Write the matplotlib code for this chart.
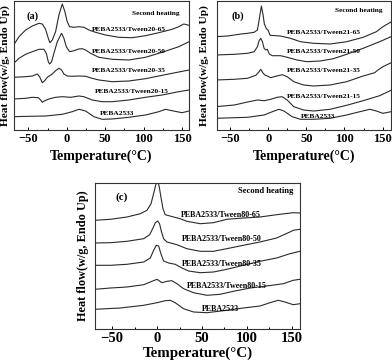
import matplotlib
matplotlib.use("Agg")
import matplotlib.pyplot as plt
from matplotlib.ticker import MultipleLocator

plt.rcParams['font.family'] = ['Liberation Serif', 'DejaVu Serif']
plt.rcParams['font.weight'] = 'bold'

# ---------------- Panel (a): PEBA2533 / Tween20 ----------------
a65_T = [-69, -62.1, -53.5, -44.8, -36.1, -31.8, -27.5, -24.0, -21.9, -18.8, -14.5, -10.2, -5.8, -2.4,
         0.6, 3.7, 9.3, 15.8, 22.3, 28.8, 37.4, 50.4, 67.7, 85.1, 102.4, 119.7, 137.0, 145.7, 152.2, 159]
a65_v = [8.5, 9.33, 10.0, 10.4, 10.67, 10.6, 10.07, 9.17, 8.73, 9.0, 9.83, 11.5, 12.6, 11.83,
         10.83, 10.33, 10.27, 10.33, 10.27, 10.0, 9.77, 9.5, 9.27, 9.23, 9.43, 9.73, 10.07, 10.33, 10.6, 10.47]

a50_T = [-69, -62.1, -53.5, -44.8, -36.1, -29.7, -26.6, -24.0, -22.3, -19.7, -16.7, -12.3, -6.7, -3.7,
         -0.6, 3.7, 9.3, 15.8, 20.1, 24.5, 31.0, 41.8, 59.1, 80.7, 102.4, 124.0, 145.7, 159]
a50_v = [6.67, 7.17, 7.57, 7.83, 8.07, 8.07, 7.67, 6.83, 6.6, 6.83, 7.67, 8.83, 9.67, 9.17,
         8.33, 7.83, 7.93, 8.1, 8.13, 8.0, 7.67, 7.27, 7.07, 7.0, 7.27, 7.77, 8.33, 8.83]

a35_T = [-69, -53.5, -44.8, -38.3, -35.3, -31.8, -28.8, -25.3, -18.8, -14.5, -10.2, -6.7, -3.7, 0.6,
         7.1, 15.8, 24.5, 33.1, 41.8, 59.1, 80.7, 102.4, 124.0, 145.7, 159]
a35_v = [5.27, 5.33, 5.4, 5.6, 5.33, 4.73, 4.93, 5.27, 5.6, 5.93, 6.17, 6.0, 5.6, 5.4,
         5.37, 5.4, 5.37, 5.17, 5.0, 4.83, 4.9, 5.13, 5.47, 5.8, 6.0]

a15_T = [-69, -53.5, -44.8, -37.0, -34.0, -31.8, -28.4, -23.2, -14.5, -5.8, 5.0, 15.8, 22.3, 33.1,
         46.1, 59.1, 80.7, 102.4, 124.0, 145.7, 159]
a15_v = [3.1, 3.17, 3.27, 3.23, 3.0, 2.77, 2.93, 3.1, 3.27, 3.33, 3.27, 3.4, 3.33, 3.0,
         2.83, 2.83, 3.0, 3.27, 3.5, 3.83, 4.0]

a0_T = [-69, -49.1, -27.5, -5.8, 7.1, 16.0, 24.5, 35.3, 46.1, 59.1, 80.7, 102.4, 119.7, 128.4, 137.0, 150.0, 159]
a0_v = [1.33, 1.37, 1.4, 1.57, 1.83, 2.07, 1.9, 1.33, 1.07, 1.1, 1.27, 1.5, 1.83, 2.07, 1.93, 1.73, 1.9]

# ---------------- Panel (b): PEBA2533 / Tween21 ----------------
b65_T = [-69, -53.0, -35.7, -27.1, -18.4, -14.1, -11.9, -8.9, -6.7, -5.0, -2.4, -0.2, 2.4, 16.2,
         29.2, 42.2, 59.5, 81.2, 102.8, 124.5, 141.8, 150.4, 161]
b65_v = [9.33, 9.4, 9.6, 9.67, 9.77, 10.0, 11.0, 12.4, 11.5, 10.6, 10.13, 10.0, 9.47, 9.4,
         9.17, 8.83, 8.67, 8.6, 8.83, 9.27, 9.83, 10.33, 10.8]

b50_T = [-69, -44.4, -27.1, -18.4, -14.1, -11.9, -9.7, -7.6, -5.4, -3.2, -1.1, 1.5, 5.4, 16.2,
         24.9, 37.9, 50.9, 68.2, 85.5, 102.8, 124.5, 146.1, 161]
b50_v = [7.5, 7.57, 7.67, 7.83, 8.33, 8.93, 9.17, 8.83, 8.17, 8.0, 8.07, 7.6, 7.43, 7.43,
         7.27, 7.0, 6.83, 6.9, 7.13, 7.57, 8.17, 8.83, 9.33]

b35_T = [-69, -44.4, -27.1, -16.2, -11.9, -9.7, -7.1, -4.5, -1.1, 3.2, 9.7, 18.4, 24.9, 33.5,
         46.5, 59.5, 81.2, 102.8, 124.5, 139.6, 143.9, 150.4, 161]
b35_v = [5.0, 5.07, 5.17, 5.47, 5.83, 6.07, 5.73, 5.5, 5.4, 5.23, 5.37, 5.53, 5.33, 4.83,
         4.5, 4.4, 4.5, 4.83, 5.4, 5.73, 6.0, 6.33, 6.72]

b15_T = [-69, -44.4, -27.1, -14.1, -5.4, 3.2, 11.9, 18.4, 24.9, 33.5, 46.5, 59.5, 81.2, 102.8,
         124.5, 146.1, 161]
b15_v = [2.33, 2.5, 2.8, 3.0, 2.93, 3.07, 3.27, 3.33, 3.0, 2.33, 2.0, 1.9, 2.07, 2.47,
         2.93, 3.43, 3.97]

b0_T = [-69, -27.1, -5.4, 5.4, 14.1, 20.6, 31.4, 42.2, 59.5, 81.2, 102.8, 120.1, 133.1, 141.8, 150.4, 161]
b0_v = [1.17, 1.27, 1.5, 1.83, 2.07, 1.9, 1.33, 1.07, 1.07, 1.17, 1.5, 1.83, 2.07, 1.9, 1.67, 1.83]

# ---------------- Panel (c): PEBA2533 / Tween80 ----------------
c65_T = [-69.2, -51.8, -33.4, -18.6, -11.2, -6.7, -3.8, -1.6, 0.6, 2.5, 4.3, 6.6, 9.1, 18.4,
         25.8, 33.2, 48.0, 62.8, 77.5, 96.0, 114.5, 133.0, 151.5, 159]
c65_v = [10.87, 10.97, 11.2, 11.53, 11.87, 12.53, 13.53, 14.37, 14.87, 14.2, 13.2, 12.03, 11.43, 11.2,
         11.03, 10.77, 10.53, 10.63, 10.97, 11.1, 11.2, 11.43, 11.63, 11.6]

c50_T = [-69.2, -51.8, -33.4, -14.9, -8.2, -4.5, -1.9, 0.6, 2.8, 5.0, 7.3, 11.0, 22.1, 33.2,
         48.0, 62.8, 77.5, 96.0, 114.5, 133.0, 147.8, 151.5, 159]
c50_v = [8.6, 8.63, 8.77, 9.03, 9.43, 10.1, 10.63, 10.8, 10.53, 9.7, 9.03, 8.7, 8.43, 8.03,
         7.77, 7.77, 8.03, 8.37, 8.7, 9.1, 9.7, 9.87, 9.97]

c35_T = [-69.2, -51.8, -33.4, -14.9, -7.5, -3.8, -0.8, 1.8, 4.3, 7.3, 12.9, 20.3, 27.7, 35.0,
         48.0, 62.8, 77.5, 96.0, 114.5, 133.0, 147.8, 159]
c35_v = [6.37, 6.37, 6.47, 6.7, 7.1, 7.87, 8.37, 8.3, 7.53, 6.8, 6.6, 6.47, 6.1, 5.8,
         5.63, 5.7, 5.97, 6.37, 6.77, 7.1, 7.53, 7.77]

c15_T = [-69.2, -51.8, -33.4, -14.9, -5.6, 0.0, 5.5, 11.0, 16.5, 22.1, 29.5, 40.6, 55.4, 70.1,
         84.9, 103.4, 121.9, 140.4, 151.5, 159]
c15_v = [3.97, 4.1, 4.2, 4.43, 4.77, 4.97, 4.63, 4.77, 4.83, 4.53, 4.03, 3.63, 3.37, 3.47,
         3.77, 4.1, 4.3, 4.53, 4.87, 4.97]

c0_T = [-69.2, -40.8, -14.9, 0.0, 9.1, 14.7, 20.2, 29.5, 40.6, 55.4, 77.5, 96.0, 114.5, 125.6,
        134.8, 142.2, 151.5, 159]
c0_v = [1.97, 2.1, 2.37, 2.63, 2.83, 2.87, 2.63, 2.03, 1.7, 1.63, 1.87, 2.1, 2.3, 2.63,
        2.87, 2.7, 2.43, 2.53]

labels_a = ["PEBA2533/Tween20-65", "PEBA2533/Tween20-50", "PEBA2533/Tween20-35", "PEBA2533/Tween20-15", "PEBA2533"]
labels_b = ["PEBA2533/Tween21-65", "PEBA2533/Tween21-50", "PEBA2533/Tween21-35", "PEBA2533/Tween21-15", "PEBA2533"]
labels_c = ["PEBA2533/Tween80-65", "PEBA2533/Tween80-50", "PEBA2533/Tween80-35", "PEBA2533/Tween80-15", "PEBA2533"]

xticks = [-50, 0, 50, 100, 150]
xlabel = "Temperature(°C)"
ylabel = "Heat flow(w/g, Endo Up)"

# label anchor positions (data coords)
lab_pos_a = [(81, 10.07), (81, 7.83), (81, 5.9), (85, 3.83), (66, 1.67)]
lab_pos_b = [(73, 9.7), (73, 7.83), (73, 5.9), (73, 3.4), (66, 1.33)]
lab_pos_c = [(71, 11.43), (72, 9.03), (72, 6.53), (77.5, 4.3), (71, 2.03)]

fig = plt.figure(figsize=(3.92, 3.64), dpi=100)
W, H = 392.0, 364.0

def make_ax(l, r, t, b):
    return fig.add_axes([l / W, 1 - b / H, (r - l) / W, (b - t) / H])

axa = make_ax(13.7, 189, 1, 130)
axb = make_ax(216.7, 391, 1, 130)
axc = make_ax(95, 300, 183, 329)

line_kw = dict(color="#2a2a2a", lw=0.8)

def setup(ax, series, labels, lab_pos, tag, tag_pos, sh_pos, xlim, ylim, tick_fs, xlab_fs,
          ylab_fs, txt_fs, sh_fs, ylab_x, xlab_pad):
    for T, v in series:
        ax.plot(T, v, **line_kw)
    for s, (x, y) in zip(labels, lab_pos):
        ax.text(x, y, s, ha="center", va="center", fontsize=txt_fs, fontweight="bold")
    ax.text(tag_pos[0], tag_pos[1], tag, ha="center", va="center", fontsize=txt_fs + 2, fontweight="bold")
    ax.text(sh_pos[0], sh_pos[1], "Second heating", ha="center", va="center", fontsize=sh_fs, fontweight="bold")
    ax.set_xlim(*xlim)
    ax.set_ylim(*ylim)
    ax.set_xticks(xticks)
    ax.xaxis.set_minor_locator(MultipleLocator(25))
    ax.set_yticks([])
    ax.tick_params(axis="x", which="major", direction="in", length=2.5, width=0.7, labelsize=tick_fs, pad=2.5)
    ax.tick_params(axis="x", which="minor", direction="in", length=1.8, width=0.7)
    for lbl in ax.get_xticklabels():
        lbl.set_fontweight("bold")
    for sp in ax.spines.values():
        sp.set_linewidth(0.8)
        sp.set_color("#333333")
    ax.set_xlabel(xlabel, fontsize=xlab_fs, fontweight="bold", labelpad=xlab_pad)
    ax.set_ylabel(ylabel, fontsize=ylab_fs, fontweight="bold")
    ax.yaxis.set_label_coords(ylab_x, 0.5)

setup(axa, [(a65_T, a65_v), (a50_T, a50_v), (a35_T, a35_v), (a15_T, a15_v), (a0_T, a0_v)],
      labels_a, lab_pos_a, "(a)", (-44.8, 11.4), (115.8, 11.67), (-69, 159), (0, 12.9),
      9, 10, 8.2, 5.3, 5.3, -0.02, 3)
setup(axb, [(b65_T, b65_v), (b50_T, b50_v), (b35_T, b35_v), (b15_T, b15_v), (b0_T, b0_v)],
      labels_b, lab_pos_b, "(b)", (-39.2, 11.43), (118.4, 11.93), (-67.5, 161), (0, 12.9),
      9, 10, 8.2, 5.3, 5.3, -0.045, 3)
setup(axc, [(c65_T, c65_v), (c50_T, c50_v), (c35_T, c35_v), (c15_T, c15_v), (c0_T, c0_v)],
      labels_c, lab_pos_c, "(c)", (-38.9, 13.2), (120.4, 13.77), (-69, 159), (0, 14.6),
      10.5, 10.8, 8.8, 5.8, 6.2, -0.03, 1)

fig.savefig("out.png", dpi=100)
